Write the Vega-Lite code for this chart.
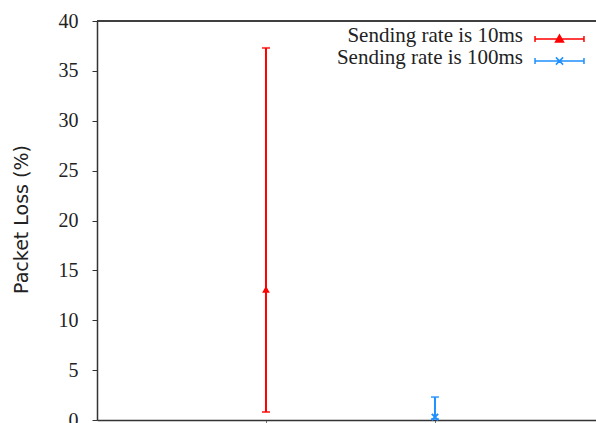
{
  "$schema": "https://vega.github.io/schema/vega-lite/v6.json",
  "width": 499,
  "height": 399,
  "autosize": "none",
  "padding": {"left": 97, "top": 21, "right": 0, "bottom": 3},
  "background": "white",
  "config": {"view": {"stroke": null}, "axis": {"grid": false}},
  "data": {
    "values": [
      {"series": "Sending rate is 10ms", "x": 1, "mean": 13.1, "lo": 0.8, "hi": 37.3},
      {"series": "Sending rate is 100ms", "x": 2, "mean": 0.3, "lo": 0.1, "hi": 2.3}
    ]
  },
  "layer": [
    {
      "mark": {"type": "rule", "strokeWidth": 2},
      "encoding": {
        "x": {
          "field": "x", "type": "quantitative",
          "scale": {"domain": [0, 2.953], "nice": false, "zero": false},
          "axis": {"orient": "bottom", "values": [1, 2], "labels": false, "title": null, "tickSize": 4, "domainColor": "#333", "domainWidth": 1.5, "tickColor": "#777"}
        },
        "y": {
          "field": "lo", "type": "quantitative",
          "scale": {"domain": [0, 40], "nice": false},
          "axis": {
            "values": [0, 5, 10, 15, 20, 25, 30, 35, 40],
            "tickSize": 5, "labelPadding": 14,
            "labelFont": "Liberation Serif", "labelFontSize": 20, "labelColor": "#222", "labelBaseline": "middle",
            "title": "Packet Loss (%)", "titleFont": "DejaVu Sans", "titleFontSize": 19, "titleFontWeight": "normal", "titleColor": "#222",
            "titleX": -70, "titleY": 198, "titleBaseline": "alphabetic", "titleAngle": -90, "titleAlign": "center",
            "domainColor": "#333", "domainWidth": 1.5, "tickColor": "#333"
          }
        },
        "y2": {"field": "hi"},
        "color": {
          "field": "series", "type": "nominal",
          "scale": {"domain": ["Sending rate is 10ms", "Sending rate is 100ms"], "range": ["#ff0000", "#1e90ff"]},
          "legend": {
            "orient": "none", "legendX": 449.5, "legendY": 5, "title": null, "padding": 0,
            "labelFont": "Liberation Serif", "labelFontSize": 21, "labelColor": "#222",
            "labelAlign": "right", "labelOffset": -49.5, "labelLimit": 300, "labelBaseline": "alphabetic",
            "symbolSize": 576, "rowPadding": 1,
            "encode": {
              "symbols": {
                "update": {
                  "shape": {"signal": "datum.value === 'Sending rate is 10ms' ? 'M-2.04,0H2.04M-2.04,-0.25V0.25M2.04,-0.25V0.25M0,-0.33L0.33,0.25L-0.33,0.25Z' : 'M-2.04,0H2.04M-2.04,-0.25V0.25M2.04,-0.25V0.25M-0.3,-0.3L0.3,0.3M-0.3,0.3L0.3,-0.3'"},
                  "fill": {"signal": "datum.value === 'Sending rate is 10ms' ? '#ff0000' : '#1e90ff'"},
                  "stroke": {"signal": "datum.value === 'Sending rate is 10ms' ? '#ff0000' : '#1e90ff'"},
                  "strokeWidth": {"value": 1.5},
                  "opacity": {"value": 1}
                }
              },
              "labels": {"update": {"dy": {"value": 3}}}
            }
          }
        }
      }
    },
    {
      "mark": {"type": "tick", "orient": "horizontal", "size": 8, "thickness": 2},
      "encoding": {
        "x": {"field": "x", "type": "quantitative"},
        "y": {"field": "lo", "type": "quantitative", "title": "Packet Loss (%)"},
        "color": {"field": "series", "type": "nominal", "legend": null}
      }
    },
    {
      "mark": {"type": "tick", "orient": "horizontal", "size": 8, "thickness": 2},
      "encoding": {
        "x": {"field": "x", "type": "quantitative"},
        "y": {"field": "hi", "type": "quantitative", "title": "Packet Loss (%)"},
        "color": {"field": "series", "type": "nominal", "legend": null}
      }
    },
    {
      "transform": [{"filter": "datum.series === 'Sending rate is 10ms'"}],
      "mark": {"type": "point", "shape": "triangle-up", "filled": true, "color": "#ff0000", "size": 60, "opacity": 1},
      "encoding": {
        "x": {"field": "x", "type": "quantitative"},
        "y": {"field": "mean", "type": "quantitative", "title": "Packet Loss (%)"}
      }
    },
    {
      "transform": [{"filter": "datum.series === 'Sending rate is 100ms'"}],
      "mark": {"type": "point", "shape": "M-1,-1L1,1M-1,1L1,-1", "filled": false, "color": "#1e90ff", "size": 40, "strokeWidth": 2, "opacity": 1},
      "encoding": {
        "x": {"field": "x", "type": "quantitative"},
        "y": {"field": "mean", "type": "quantitative", "title": "Packet Loss (%)"}
      }
    },
    {
      "mark": {"type": "rule", "color": "#333", "strokeWidth": 1.5},
      "encoding": {"y": {"datum": 40, "type": "quantitative", "title": "Packet Loss (%)"}}
    }
  ]
}
